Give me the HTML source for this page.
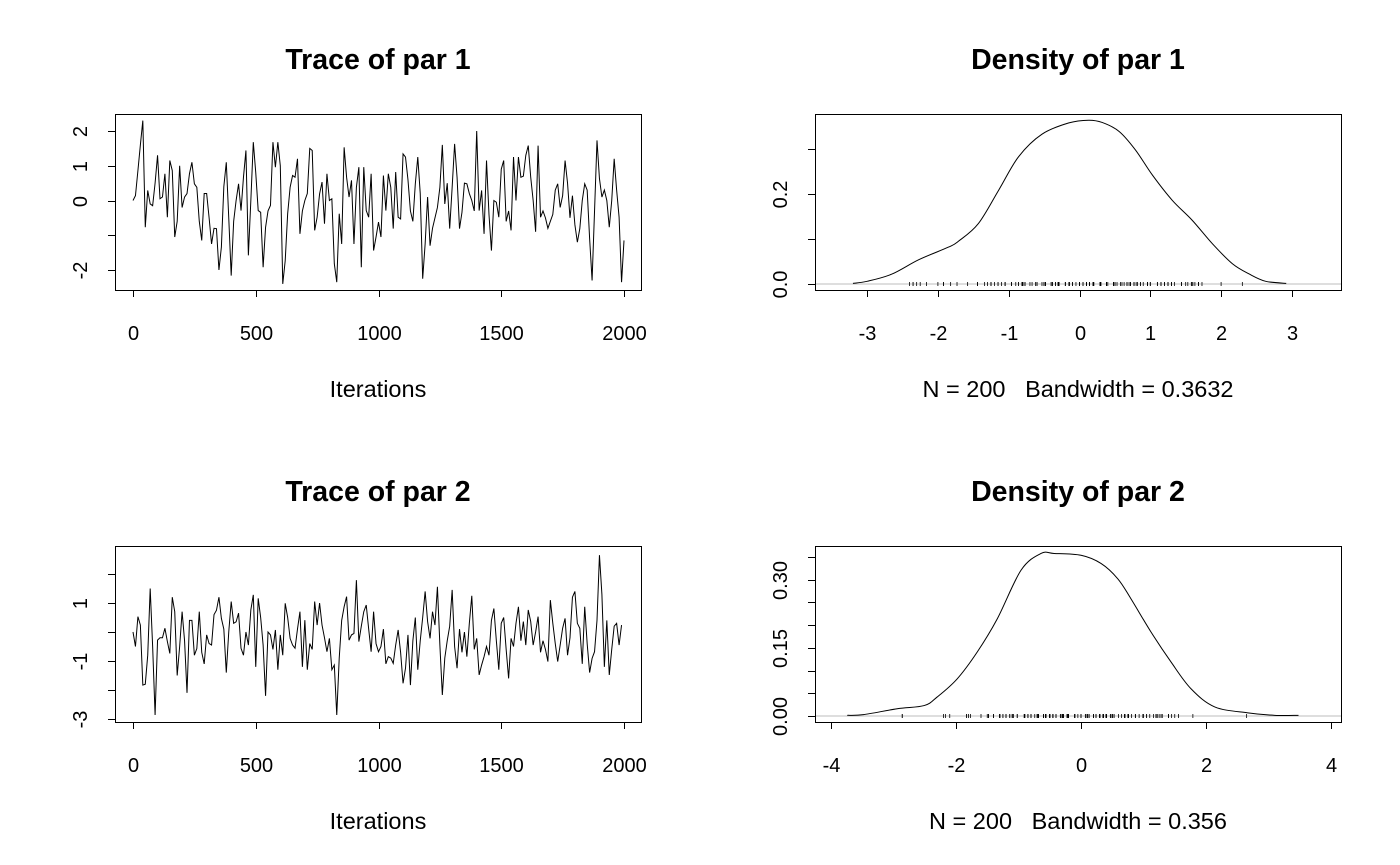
<!DOCTYPE html>
<html><head><meta charset="utf-8"><title>MCMC trace and density</title>
<style>
html,body{margin:0;padding:0;background:#fff;}
svg{display:block;font-family:"Liberation Sans",Arial,sans-serif;}
text{white-space:pre;}
</style></head>
<body>
<svg id="chart" width="1400" height="865" viewBox="0 0 1400 865" xmlns="http://www.w3.org/2000/svg"></svg>
<script>
// ---- data ----
const par1Trace = [0,0.14,0.86,1.6,2.3,-0.77,0.29,-0.1,-0.15,0.5,1.3,0.05,0.1,0.77,-0.48,1.15,0.86,-1.05,-0.6,1.0,-0.2,0.1,0.2,0.77,1.1,0.48,0.38,-0.6,-1.15,0.2,0.2,-0.5,-1.25,-0.8,-0.81,-2.0,-1.34,0.4,1.1,-0.5,-2.16,-0.6,0,0.48,-0.29,0.67,1.44,-1.58,
0,1.68,0.8,-0.29,-0.34,-1.92,-0.77,-0.3,-0.14,1.68,0.96,1.68,1.0,-2.4,-1.73,-0.38,0.38,0.72,0.67,1.2,-0.96,-0.3,0.0,0.2,1.5,1.44,-0.86,-0.48,0.19,0.53,-0.67,0.77,0.0,0.05,-1.82,-2.35,-0.38,-1.25,1.53,0.67,0.1,0.58,-1.25,0.38,0.96,-1.92,0.96,-0.29,-0.48,0.77,-1.44,-1.05,-0.62,
-1.05,0.72,-0.29,0.77,0.38,-0.81,0.82,-0.48,-0.53,1.34,1.25,0.6,-0.3,-0.6,0.48,1.25,0.2,-2.25,-1.25,0.1,-1.3,-0.8,-0.5,-0.2,0.38,1.6,-0.1,0.5,-0.81,0.38,1.63,0.67,-0.81,-0.34,0.5,0.48,0.2,0.0,-0.3,2.0,-0.29,0.29,-0.96,1.15,-0.4,-1.44,0.0,-0.05,-0.48,0.9,1.15,-0.6,-0.3,-0.86,
1.25,0.0,1.25,0.67,0.7,1.3,1.58,0.67,0.0,-0.9,1.58,-0.48,-0.3,-0.5,-0.8,-0.6,-0.4,0.3,0.48,-0.2,0.14,1.15,0.5,-0.5,0.14,-0.7,-1.2,-0.81,0.0,0.48,0.3,-1.1,-2.3,-0.3,1.73,0.63,0.1,0.3,0.0,-0.77,0.0,1.2,0.3,-0.48,-2.35,-1.15];
const par2Trace = [0.0,-0.5,0.53,0.24,-1.83,-1.8,-0.8,1.5,-0.5,-2.86,-0.28,-0.2,-0.2,0.13,-0.33,-0.74,1.2,0.7,-1.5,-0.5,0.7,-0.3,-2.1,0.4,0.4,-0.8,-0.57,0.7,-0.7,-1.1,-0.1,-0.4,-0.45,0.6,0.75,1.2,0.47,0.1,-1.4,0.0,1.05,0.3,0.35,0.65,-0.56,-0.8,0.0,-0.45,
0.76,1.28,-1.2,1.16,0.5,-0.45,-2.2,0.0,-0.1,-0.6,0.07,-1.3,-0.1,-0.8,0.99,0.5,-0.22,-0.45,-0.56,0.1,0.7,-1.2,0.41,-1.3,-0.4,-0.6,1.05,0.24,1.0,0.24,-0.2,-0.68,-0.22,-1.3,-1.14,-2.86,-0.9,0.4,0.87,1.22,-0.28,-0.1,-0.05,1.79,-0.33,0.2,0.7,0.93,0.1,-0.68,0.7,-0.4,-0.68,
-0.5,0.1,-1.1,-0.85,-0.9,-1.08,-0.45,0.07,-0.7,-1.77,-1.25,-0.1,-1.83,-0.3,0.5,-1.3,-0.3,0.5,1.4,0.36,-0.22,0.7,0.24,1.56,-0.45,-2.17,-0.9,-0.3,0.2,1.45,-0.5,-1.25,0.1,-0.7,0.0,-0.85,0.3,1.25,-0.6,-0.22,-1.48,-1.14,-0.85,-0.5,-0.8,0.4,0.81,-0.3,-1.3,0.3,0.5,-0.6,-1.6,
-0.22,-0.5,0.3,0.87,-0.3,0.36,-0.45,0.76,0.36,-0.45,0.0,0.53,-0.7,-0.3,-0.6,-1.02,1.1,0.3,-0.4,-1.02,-0.45,0.13,0.47,-0.8,-0.2,1.2,1.4,0.3,0.13,-1.1,0.87,-0.4,-1.4,-0.91,-0.68,0.4,2.65,1.3,-1.2,0.4,-1.48,-0.6,0.2,0.3,-0.45,0.24];
const iterStep = 10;
const dens1X = [-3.2,-3.0,-2.65,-2.27,-1.85,-1.71,-1.43,-1.14,-0.86,-0.53,-0.15,0.13,0.32,0.56,0.79,1.03,1.31,1.59,1.88,2.16,2.4,2.63,2.92];
const dens1Y = [0.0015,0.006,0.022,0.054,0.082,0.095,0.134,0.209,0.283,0.333,0.358,0.364,0.359,0.339,0.298,0.242,0.186,0.142,0.089,0.045,0.022,0.006,0.0015];
const dens2X = [-3.74,-3.48,-2.94,-2.51,-2.3,-1.98,-1.66,-1.34,-0.96,-0.64,-0.43,0,0.32,0.59,0.8,1.12,1.44,1.76,2.14,2.67,3.1,3.48];
const dens2Y = [0.0015,0.003,0.016,0.023,0.042,0.082,0.141,0.214,0.321,0.358,0.358,0.354,0.336,0.302,0.258,0.185,0.119,0.06,0.02,0.007,0.0015,0.0015];
const traceXTicks = [0,500,1000,1500,2000];
const trace1YTicks = [-2,-1,0,1,2];
const trace1YLabels = ["-2","","0","1","2"];
const trace2YTicks = [-3,-2,-1,0,1,2];
const trace2YLabels = ["-3","","-1","","1",""];
const dens1XTicks = [-3,-2,-1,0,1,2,3];
const dens1YTicks = [0,0.1,0.2,0.3];
const dens1YLabels = ["0.0","","0.2",""];
const dens2XTicks = [-4,-2,0,2,4];
const dens2YTicks = [0,0.05,0.1,0.15,0.2,0.25,0.3,0.35];
const dens2YLabels = ["0.00","","","0.15","","","0.30",""];

const NS = "http://www.w3.org/2000/svg";
const svg = document.getElementById("chart");
function mk(tag, attrs, parent) {
  const e = document.createElementNS(NS, tag);
  for (const k in attrs) e.setAttribute(k, attrs[k]);
  (parent || svg).appendChild(e);
  return e;
}
function linScale(d0, d1, r0, r1) { return v => r0 + (v - d0) * (r1 - r0) / (d1 - d0); }

function panel(cfg) {
  const g = mk("g", {});
  
  
  const [L, T, R, B] = cfg.box;
  const sx = cfg.sx, sy = cfg.sy;
  const t = mk("text", {x: (L + R) / 2, y: cfg.titleY, "text-anchor": "middle", "font-size": 28.5, "font-weight": "bold", fill: "#000"}, g);
  t.textContent = cfg.title;
  
  
  const bx = mk("rect", {x: L + 0.5, y: T + 0.5, width: R - L, height: B - T, fill: "none", stroke: "#000", "stroke-width": 1}, g);
  
  
  const xa = mk("g", {}, g);
  
  
  const xt = cfg.xTicks;
  mk("line", {x1: sx(xt[0]), x2: sx(xt[xt.length - 1]), y1: B + 0.5, y2: B + 0.5, stroke: "#000"}, xa);
  xt.forEach(v => {
    const px = Math.round(sx(v)) + 0.5;
    mk("line", {x1: px, x2: px, y1: B, y2: B + 7, stroke: "#000"}, xa);
    const tl = mk("text", {x: px, y: B + 50, "text-anchor": "middle", "font-size": 20, fill: "#000"}, xa);
    tl.textContent = String(v);
    
    
  });
  const xl = mk("text", {x: (L + R) / 2, y: B + 107, "text-anchor": "middle", "font-size": 23.5, fill: "#000"}, g);
  xl.textContent = cfg.xLabel;
  
  
  const ya = mk("g", {}, g);
  
  
  const yt = cfg.yTicks;
  mk("line", {x1: L + 0.5, x2: L + 0.5, y1: sy(yt[0]), y2: sy(yt[yt.length - 1]), stroke: "#000"}, ya);
  yt.forEach((v, i) => {
    const py = Math.round(sy(v)) + 0.5;
    mk("line", {x1: L - 7, x2: L, y1: py, y2: py, stroke: "#000"}, ya);
    if (cfg.yLabels[i]) {
      const xx = L - 28;
      const tl = mk("text", {x: xx, y: py, "text-anchor": "middle", "font-size": 20, fill: "#000", transform: `rotate(-90 ${xx} ${py})`}, ya);
      tl.textContent = cfg.yLabels[i];
      
      
    }
  });
  return g;
}

(function () {
  const box = [115, 114, 641, 290];
  const sx = linScale(0, 2000, 133, 624);
  const sy = linScale(0, 2, 200.5, 131);
  const g = panel({name: "trace-par1-panel", box, sx, sy, title: "Trace of par 1", titleY: 69, xLabel: "Iterations", xTicks: traceXTicks, yTicks: trace1YTicks, yLabels: trace1YLabels});
  const d = par1Trace.map((v, i) => (i ? "L" : "M") + sx(i * iterStep).toFixed(2) + " " + sy(v).toFixed(2)).join(" ");
  const p = mk("path", {d, fill: "none", stroke: "#000", "stroke-width": 1}, g);
  
  
})();

(function () {
  const box = [115, 546, 641, 722];
  const sx = linScale(0, 2000, 133, 624);
  const sy = linScale(0, 1, 632, 603);
  const g = panel({name: "trace-par2-panel", box, sx, sy, title: "Trace of par 2", titleY: 501, xLabel: "Iterations", xTicks: traceXTicks, yTicks: trace2YTicks, yLabels: trace2YLabels});
  const d = par2Trace.map((v, i) => (i ? "L" : "M") + sx(i * iterStep).toFixed(2) + " " + sy(v).toFixed(2)).join(" ");
  const p = mk("path", {d, fill: "none", stroke: "#000", "stroke-width": 1}, g);
  
  
})();

function smoothPath(xs, ys, sx, sy) {
  const pts = xs.map((x, i) => [sx(x), sy(ys[i])]);
  let d = "M" + pts[0][0].toFixed(2) + " " + pts[0][1].toFixed(2);
  for (let i = 0; i < pts.length - 1; i++) {
    const p0 = pts[Math.max(0, i - 1)], p1 = pts[i], p2 = pts[i + 1], p3 = pts[Math.min(pts.length - 1, i + 2)];
    const c1 = [p1[0] + (p2[0] - p0[0]) / 6, p1[1] + (p2[1] - p0[1]) / 6];
    const c2 = [p2[0] - (p3[0] - p1[0]) / 6, p2[1] - (p3[1] - p1[1]) / 6];
    d += ` C${c1[0].toFixed(2)} ${c1[1].toFixed(2)} ${c2[0].toFixed(2)} ${c2[1].toFixed(2)} ${p2[0].toFixed(2)} ${p2[1].toFixed(2)}`;
  }
  return d;
}

function densityPanel(o) {
  const g = panel(o);
  const [L, T, R, B] = o.box;
  const zero = mk("line", {x1: L + 1, x2: R, y1: o.sy(0), y2: o.sy(0), stroke: "#bebebe", "stroke-width": 1}, g);
  
  
  const rug = mk("g", {}, g);
  
  
  o.samples.forEach(v => {
    const px = o.sx(v);
    mk("line", {x1: px, x2: px, y1: o.sy(0) - 2, y2: o.sy(0) + 2, stroke: "#000", "stroke-width": 0.8}, rug);
  });
  const p = mk("path", {d: smoothPath(o.dx, o.dy, o.sx, o.sy), fill: "none", stroke: "#000", "stroke-width": 1}, g);
  
  
}

densityPanel({name: "density-par1-panel", box: [815, 114, 1341, 290],
  sx: linScale(0, 1, 1079.5, 1150.3), sy: linScale(0, 0.1, 284, 239),
  title: "Density of par 1", titleY: 69, xLabel: "N = 200   Bandwidth = 0.3632",
  xTicks: dens1XTicks, yTicks: dens1YTicks, yLabels: dens1YLabels,
  dx: dens1X, dy: dens1Y, samples: par1Trace, lineName: "density-curve-par1"});

densityPanel({name: "density-par2-panel", box: [815, 546, 1341, 722],
  sx: linScale(0, 2, 1081, 1206), sy: linScale(0, 0.05, 716, 693.3),
  title: "Density of par 2", titleY: 501, xLabel: "N = 200   Bandwidth = 0.356",
  xTicks: dens2XTicks, yTicks: dens2YTicks, yLabels: dens2YLabels,
  dx: dens2X, dy: dens2Y, samples: par2Trace, lineName: "density-curve-par2"});
</script>
</body></html>
